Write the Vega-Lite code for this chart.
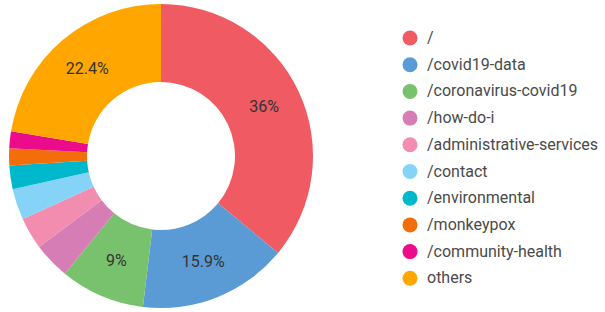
{
  "$schema": "https://vega.github.io/schema/vega-lite/v6.json",
  "width": 322,
  "height": 312,
  "autosize": {"type": "none"},
  "padding": {"left": 0, "top": 0, "right": 283, "bottom": 0},
  "background": "white",
  "config": {"view": {"stroke": null}, "font": "Roboto"},
  "data": {
    "values": [
      {"page": "/", "share": 0.36, "rank": 1},
      {"page": "/covid19-data", "share": 0.159, "rank": 2},
      {"page": "/coronavirus-covid19", "share": 0.09, "rank": 3},
      {"page": "/how-do-i", "share": 0.039, "rank": 4},
      {"page": "/administrative-services", "share": 0.034, "rank": 5},
      {"page": "/contact", "share": 0.033, "rank": 6},
      {"page": "/environmental", "share": 0.025, "rank": 7},
      {"page": "/monkeypox", "share": 0.018, "rank": 8},
      {"page": "/community-health", "share": 0.018, "rank": 9},
      {"page": "others", "share": 0.224, "rank": 10}
    ]
  },
  "encoding": {
    "theta": {"field": "share", "type": "quantitative", "stack": true},
    "order": {"field": "rank", "type": "quantitative", "sort": "ascending"},
    "color": {
      "field": "page",
      "type": "nominal",
      "scale": {
        "domain": ["/", "/covid19-data", "/coronavirus-covid19", "/how-do-i", "/administrative-services", "/contact", "/environmental", "/monkeypox", "/community-health", "others"],
        "range": ["#ef5a63", "#5b9bd5", "#78c26d", "#d67db5", "#f28db0", "#85d4f7", "#00b8cb", "#f46d0b", "#ec0b8b", "#ffa600"]
      },
      "legend": {
        "orient": "none",
        "legendX": 402,
        "legendY": 30,
        "title": null,
        "symbolType": "circle",
        "symbolSize": 225,
        "symbolStrokeWidth": 0,
        "labelFontSize": 16,
        "labelFont": "Roboto",
        "labelColor": "#4a4a4a",
        "labelOffset": 9,
        "rowPadding": 10.7,
        "labelLimit": 300
      }
    }
  },
  "layer": [
    {
      "mark": {"type": "arc", "radius": 152, "radius2": 74}
    },
    {
      "mark": {"type": "text", "radius": 114, "fontSize": 16, "font": "Roboto"},
      "encoding": {
        "text": {"field": "share", "type": "quantitative", "format": ".3~%"},
        "color": {"value": "#333333"},
        "opacity": {"condition": {"test": "datum.share > 0.05", "value": 1}, "value": 0}
      }
    }
  ]
}
